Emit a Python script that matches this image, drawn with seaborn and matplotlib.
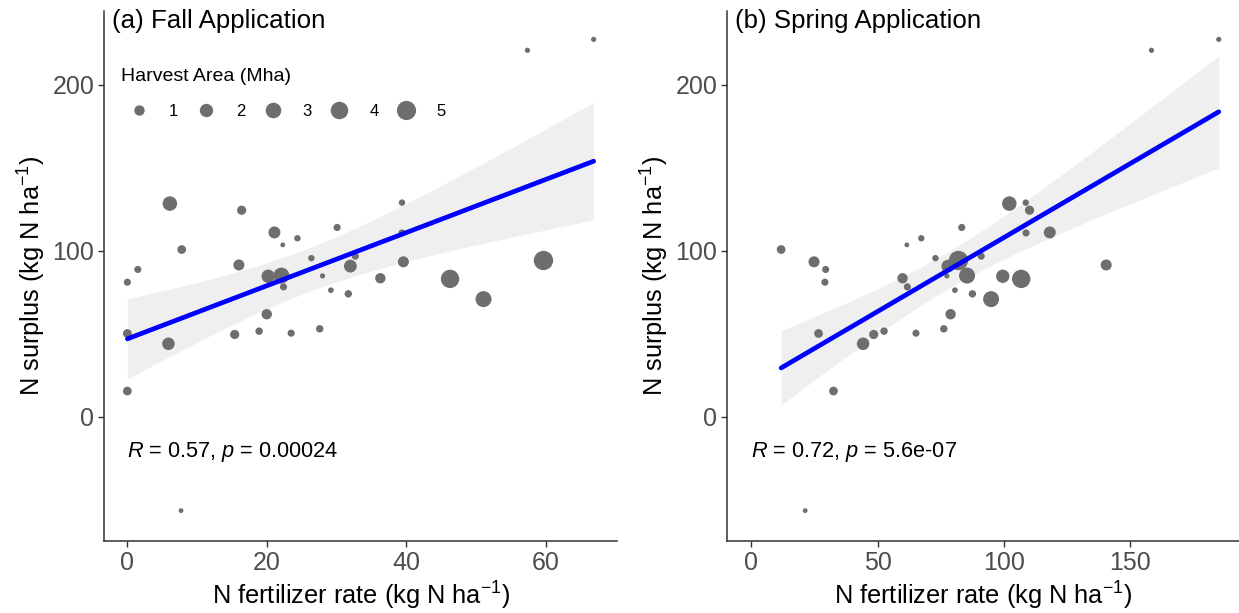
import numpy as np
import pandas as pd
import matplotlib
matplotlib.use("Agg")
import matplotlib.pyplot as plt
from matplotlib.lines import Line2D
import seaborn as sns

# ---- data ----
n_surplus = [128.4, 124.4, 114.0, 111.0, 107.5, 103.5, 100.7, 88.7, 81.0, 91.4,
             95.5, 96.7, 90.7, 84.6, 85.0, 78.2, 84.8, 76.2, 74.0, 61.7,
             50.1, 43.9, 49.5, 51.5, 50.3, 52.9, 129.0, 110.7, 93.3, 83.4,
             83.0, 70.8, 94.1, 220.8, 227.4, 15.4, -56.7]
fall_rate = [6.1, 16.4, 30.1, 21.1, 24.4, 22.3, 7.8, 1.5, 0.0, 16.0,
             26.4, 32.7, 32.0, 20.2, 22.1, 22.4, 28.0, 29.2, 31.7, 20.0,
             0.0, 5.9, 15.4, 18.9, 23.5, 27.6, 39.4, 39.4, 39.6, 36.3,
             46.3, 51.1, 59.7, 57.4, 66.9, 0.0, 7.7]
spring_rate = [102.1, 110.1, 83.3, 118.1, 67.3, 61.6, 11.9, 29.5, 29.2, 140.4,
               72.9, 91.0, 77.8, 99.5, 85.4, 61.8, 77.4, 80.6, 87.5, 78.9,
               26.7, 44.3, 48.5, 52.6, 65.2, 76.2, 108.6, 108.7, 24.9, 59.9,
               106.8, 94.9, 82.0, 158.3, 184.9, 32.6, 21.4]
harvest_area = [2.5, 0.7, 0.3, 1.5, 0.2, 0.05, 0.6, 0.3, 0.3, 1.2,
                0.2, 0.3, 1.8, 2.0, 3.2, 0.3, 0.08, 0.12, 0.35, 1.0,
                0.6, 1.7, 0.7, 0.35, 0.3, 0.35, 0.2, 0.3, 1.2, 1.0,
                4.5, 3.2, 5.1, 0.08, 0.08, 0.6, 0.05]
legend_breaks = [1, 2, 3, 4, 5]
panel_titles = ["(a) Fall Application", "(b) Spring Application"]
stat_labels = [r"$\mathit{R}$ = 0.57, $\mathit{p}$ = 0.00024",
               r"$\mathit{R}$ = 0.72, $\mathit{p}$ = 5.6e-07"]
fall_xticks = [0, 20, 40, 60]
spring_xticks = [0, 50, 100, 150]
y_ticks = [0, 100, 200]

df = pd.DataFrame({"fall": fall_rate, "spring": spring_rate,
                   "surplus": n_surplus, "area": harvest_area})

# ---- style ----
sns.set_theme(style="ticks")
plt.rcParams["font.family"] = ["Liberation Sans", "DejaVu Sans"]
plt.rcParams["mathtext.fontset"] = "custom"
plt.rcParams["mathtext.rm"] = "Liberation Sans"
plt.rcParams["mathtext.it"] = "Liberation Sans:italic"
plt.rcParams["mathtext.sf"] = "Liberation Sans"
plt.rcParams["text.color"] = "black"

POINT = "#6E6E6E"
BAND = "#999999"
LINE = "#0000FF"
AXC = "#333333"
T975 = 2.030  # two-sided 95% t quantile, n-2 = 35 df

W, H = 1239, 613
fig = plt.figure(figsize=(W / 100, H / 100), dpi=100)


def px_axes(l, t, r, b):
    return fig.add_axes([l / W, 1 - b / H, (r - l) / W, (b - t) / H])


def diam_pt(v):
    return 0.72 * 3.2 * (1 + 5 * np.sqrt(v / 5.0))


def conf_band(x, y, grid):
    x = np.asarray(x, float)
    y = np.asarray(y, float)
    n = len(x)
    b, a = np.polyfit(x, y, 1)
    resid = y - (a + b * x)
    s = np.sqrt(np.sum(resid ** 2) / (n - 2))
    xm = x.mean()
    se = s * np.sqrt(1 / n + (grid - xm) ** 2 / np.sum((x - xm) ** 2))
    fit = a + b * grid
    return fit - T975 * se, fit + T975 * se


size_map = {v: diam_pt(v) ** 2 for v in np.unique(df["area"])}

ax1 = px_axes(104, 11, 617, 541)
ax2 = px_axes(727, 11, 1239, 541)

panels = [
    (ax1, "fall", fall_xticks, (-3.35, 70.25), 111.7),
    (ax2, "spring", spring_xticks, (-9.5, 192.9), 735.0),
]

for i, (ax, xcol, xt, xl, title_px) in enumerate(panels):
    sns.scatterplot(data=df, x=xcol, y="surplus", size="area", sizes=size_map,
                    color=POINT, linewidth=0, legend=False, ax=ax, zorder=2)
    grid = np.linspace(df[xcol].min(), df[xcol].max(), 100)
    lo, hi = conf_band(df[xcol], df["surplus"], grid)
    ax.fill_between(grid, lo, hi, color=BAND, alpha=0.15, linewidth=0,
                    zorder=1)
    sns.regplot(data=df, x=xcol, y="surplus", scatter=False, ci=None,
                color=LINE, line_kws={"lw": 3.4, "zorder": 4}, ax=ax)

    ax.set_xlim(*xl)
    ax.set_ylim(-75, 244.5)
    ax.set_xticks(xt)
    ax.set_yticks(y_ticks)
    for s in ["top", "right"]:
        ax.spines[s].set_visible(False)
    for s in ["left", "bottom"]:
        ax.spines[s].set_color(AXC)
        ax.spines[s].set_linewidth(1.1)
    ax.tick_params(bottom=True, left=True, direction="out", length=4,
                   width=1.0, color=AXC, labelsize=18, labelcolor="#4D4D4D",
                   pad=3)
    ax.set_xlabel(r"N fertilizer rate (kg N ha$^{-1}$)", fontsize=18.3,
                  color="black")
    ax.set_ylabel(r"N surplus (kg N ha$^{-1}$)", fontsize=18.3, color="black")
    ax.xaxis.set_label_coords(0.5, -39 / 530)
    ax.yaxis.set_label_coords(-56 / ax.bbox.width, 0.5)

    ax.text(0, -24.1, stat_labels[i], fontsize=15.7, ha="left",
            va="baseline", color="black")
    fig.text(title_px / W, 1 - 28 / H, panel_titles[i], fontsize=18.6,
             ha="left", va="baseline", color="black")

# size legend (panel a)
handles = [Line2D([], [], marker="o", linestyle="", markersize=diam_pt(v),
                  markerfacecolor=POINT, markeredgewidth=0, label=str(v))
           for v in legend_breaks]
leg = ax1.legend(handles=handles, title="Harvest Area (Mha)", ncol=5,
                 frameon=False, fontsize=12, title_fontsize=14,
                 handlelength=2.2, handletextpad=0.7, columnspacing=0.55,
                 borderpad=0, borderaxespad=0, labelspacing=1.15,
                 loc="upper left", alignment="left",
                 bbox_to_anchor=((120.7 - 104) / 513, (541 - 68) / 530))
leg.get_title().set_color("black")

fig.savefig("out.png", dpi=100)
